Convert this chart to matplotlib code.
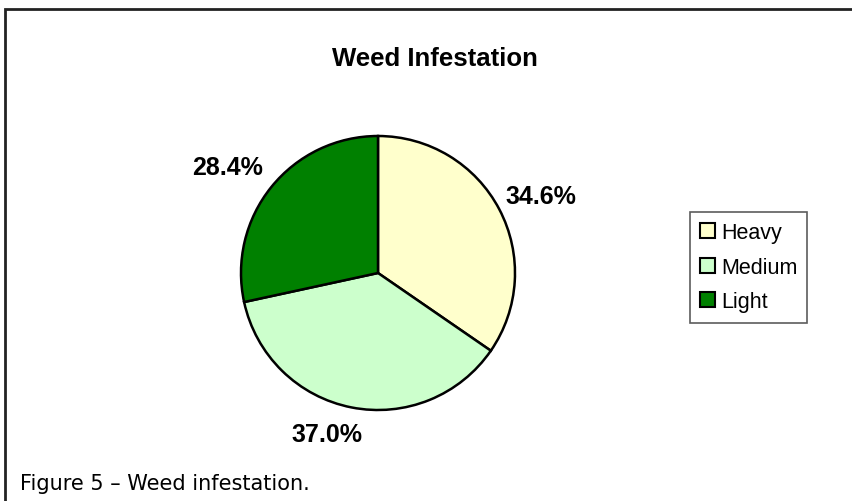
import matplotlib
matplotlib.use("Agg")
import matplotlib.pyplot as plt
from matplotlib.patches import Rectangle

# ---- data ----
categorias = ["Heavy", "Medium", "Light"]
porcentajes = [34.6, 37.0, 28.4]
colores = ["#FFFFCC", "#CCFFCC", "#008000"]
titulo = "Weed Infestation"
pie_texto = "Figure 5 \u2013 Weed infestation."

W, H = 853, 502
fig = plt.figure(figsize=(W / 100, H / 100), dpi=100)
fig.patch.set_facecolor("white")

# outer frame (right/bottom edges run off the picture)
fig.patches.append(Rectangle((5 / W, -0.1), 1.2, 1 - 10 / H + 0.1,
                             transform=fig.transFigure, fill=False,
                             edgecolor="#222222", linewidth=2))

# pie axes, centre (378, 274), radius 137 px
cx, cy, r = 378, 274, 137
ax = fig.add_axes([(cx - r) / W, 1 - (cy + r) / H, 2 * r / W, 2 * r / H])
wedges, textos, pcts = ax.pie(porcentajes, colors=colores, startangle=90,
                              counterclock=False, radius=1,
                              autopct="%.1f%%", pctdistance=1.3,
                              wedgeprops=dict(edgecolor="black", linewidth=1.8),
                              textprops=dict(fontsize=18, fontweight="bold",
                                             family="Liberation Sans"))
# excel-style label placement (in units of the radius)
pos_etiquetas = [(1.19, 0.56), (-0.37, -1.175), (-1.095, 0.774)]
for t, p in zip(pcts, pos_etiquetas):
    t.set_position(p)
ax.set_xlim(-1, 1)
ax.set_ylim(-1, 1)
ax.set_aspect("equal")
ax.axis("off")

fig.text(435 / W, 1 - 58.5 / H, titulo, ha="center", va="center",
         fontsize=18.5, fontweight="bold", family="Liberation Sans")

leg = fig.legend(wedges, categorias, loc="upper left",
                 bbox_to_anchor=(690 / W, 1 - 213 / H),
                 prop=dict(family="Liberation Sans", size=15.5),
                 frameon=True, fancybox=False, handlelength=0.7,
                 handleheight=0.7, handletextpad=0.25, labelspacing=0.63,
                 borderpad=0.48, borderaxespad=0)
leg.get_frame().set_edgecolor("#333333")
leg.get_frame().set_linewidth(1.2)
for h in leg.legend_handles:
    h.set_linewidth(1.5)

fig.text(20 / W, 1 - 490 / H, pie_texto, ha="left", va="baseline",
         fontsize=15, family="DejaVu Sans")

fig.savefig("out.png", dpi=100)
